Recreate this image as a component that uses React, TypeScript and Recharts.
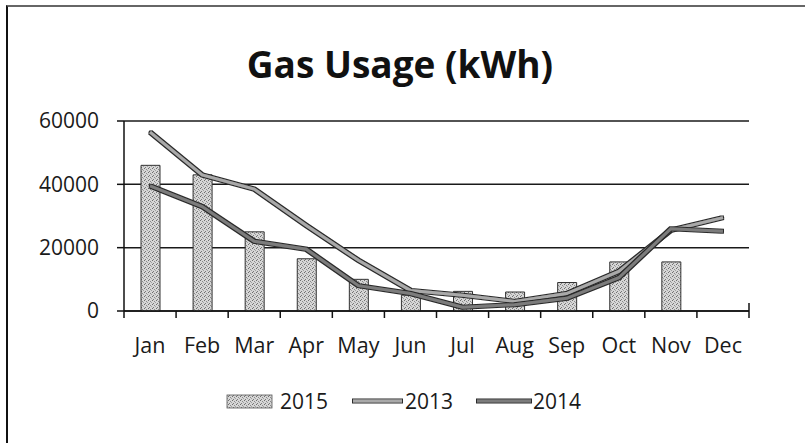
import React from "react";
import { ComposedChart, Bar, Line, XAxis, YAxis, CartesianGrid } from "recharts";

const months = ["Jan", "Feb", "Mar", "Apr", "May", "Jun", "Jul", "Aug", "Sep", "Oct", "Nov", "Dec"];
const gas2015: (number | null)[] = [46000, 43000, 25000, 16500, 10000, 5000, 6200, 6000, 9000, 15500, 15500, null];
const gas2013 = [56500, 43000, 38500, 27000, 16000, 6500, 5000, 3000, 5500, 12500, 25500, 29500];
const gas2014 = [39500, 33000, 22000, 19500, 8000, 5500, 1200, 2000, 4000, 10500, 26000, 25200];
const yTicks = [0, 20000, 40000, 60000];
const seriesNames = ["2015", "2013", "2014"];
const title = "Gas Usage (kWh)";

const W = 805;
const H = 443;
const LEFT = 124;
const RIGHT = 56;
const TOP = 121;
const BOTTOM = 132;
const XAXIS_H = 40;
const BAND = (W - LEFT - RIGHT) / months.length;
const FONT = "'Open Sans', sans-serif";

const data = months.map((m, i) => ({
  month: m,
  s2015: gas2015[i],
  s2013: gas2013[i],
  s2014: gas2014[i],
}));

const MonthTick = (props: any) => {
  const { x, y, payload, index } = props;
  const isLast = index === months.length - 1;
  return (
    <g>
      <line x1={x - BAND / 2} y1={y} x2={x - BAND / 2} y2={y + 7} stroke="#111" strokeWidth={1.5} />
      {isLast && <line x1={x + BAND / 2} y1={y - 8} x2={x + BAND / 2} y2={y + 7} stroke="#111" strokeWidth={1.5} />}
      <text x={x} y={y + 36} textAnchor="middle" dominantBaseline="middle" fill="#1a1a1a" fontSize={21.5} fontFamily={FONT}>
        {payload.value}
      </text>
    </g>
  );
};

export default function App() {
  return (
    <div style={{ position: "absolute", left: 0, top: 0, width: W, height: H, background: "#fff", overflow: "hidden" }}>
      <style>{`
        .ln2013 .recharts-curve { filter: url(#outlineF); }
        .ln2014 .recharts-curve { filter: url(#outlineF); }
      `}</style>
      <svg width={0} height={0} style={{ position: "absolute" }}>
        <defs>
          <pattern id="speckle" width={4} height={4} patternUnits="userSpaceOnUse">
            <rect width={4} height={4} fill="#d6d6d6" />
            <rect x={0} y={0} width={1} height={1} fill="#6e6e6e" />
            <rect x={2} y={1} width={1} height={1} fill="#8a8a8a" />
            <rect x={1} y={3} width={1} height={1} fill="#7a7a7a" />
            <rect x={3} y={2} width={1} height={1} fill="#a0a0a0" />
          </pattern>
          <filter id="outlineF" filterUnits="userSpaceOnUse" x={0} y={0} width={W} height={H}>
            <feMorphology in="SourceAlpha" operator="dilate" radius={1} result="d" />
            <feFlood floodColor="#2a2a2a" />
            <feComposite in2="d" operator="in" result="o" />
            <feMerge>
              <feMergeNode in="o" />
              <feMergeNode in="SourceGraphic" />
            </feMerge>
          </filter>
        </defs>
      </svg>
      {/* frame */}
      <div style={{ position: "absolute", left: 6, top: 5, width: W, height: H, borderLeft: "2px solid #111", borderTop: "2px solid #666" }} />
      <div
        style={{
          position: "absolute",
          left: 0,
          width: 800,
          top: 38,
          textAlign: "center",
          fontFamily: FONT,
          fontWeight: 700,
          fontSize: 37,
          lineHeight: "52px",
          color: "#111",
        }}
      >
        {title}
      </div>
      <div style={{ position: "absolute", left: 0, top: 0 }}>
        <ComposedChart width={W} height={H} data={data} margin={{ top: TOP, right: RIGHT, bottom: BOTTOM - XAXIS_H, left: 0 }}>
          <CartesianGrid horizontal={true} vertical={false} stroke="#1a1a1a" strokeWidth={1.5} />
          <XAxis
            dataKey="month"
            height={XAXIS_H}
            tick={<MonthTick />}
            tickLine={false}
            tickSize={0}
            tickMargin={0}
            axisLine={{ stroke: "#111", strokeWidth: 1.5 }}
            interval={0}
          />
          <YAxis
            width={LEFT}
            domain={[0, 60000]}
            ticks={yTicks}
            tickSize={7}
            tickMargin={18}
            axisLine={{ stroke: "#111", strokeWidth: 1.5 }}
            tickLine={{ stroke: "#111", strokeWidth: 1.5 }}
            tick={{ fill: "#1a1a1a", fontSize: 21, fontFamily: FONT }}
            interval={0}
          />
          <Bar dataKey="s2015" name={seriesNames[0]} barSize={19} fill="url(#speckle)" stroke="#333" strokeWidth={1} isAnimationActive={false} />
          <Line className="ln2013" dataKey="s2013" name={seriesNames[1]} type="linear" stroke="#a9a9a9" strokeWidth={3} dot={false} isAnimationActive={false} />
          <Line className="ln2014" dataKey="s2014" name={seriesNames[2]} type="linear" stroke="#7c7c7c" strokeWidth={3} dot={false} isAnimationActive={false} />
        </ComposedChart>
      </div>
      {/* legend */}
      <svg width={W} height={H} style={{ position: "absolute", left: 0, top: 0, pointerEvents: "none" }}>
        <rect x={227} y={395} width={45} height={13} fill="url(#speckle)" stroke="#555" strokeWidth={0.8} />
        <text x={280} y={403} dominantBaseline="middle" fontSize={21} fontFamily={FONT} fill="#1a1a1a">{seriesNames[0]}</text>
        <line x1={353} y1={401} x2={402} y2={401} stroke="#a9a9a9" strokeWidth={3} filter="url(#outlineF)" />
        <text x={405} y={403} dominantBaseline="middle" fontSize={21} fontFamily={FONT} fill="#1a1a1a">{seriesNames[1]}</text>
        <line x1={477} y1={401} x2={531} y2={401} stroke="#7c7c7c" strokeWidth={3} filter="url(#outlineF)" />
        <text x={533} y={403} dominantBaseline="middle" fontSize={21} fontFamily={FONT} fill="#1a1a1a">{seriesNames[2]}</text>
      </svg>
    </div>
  );
}
